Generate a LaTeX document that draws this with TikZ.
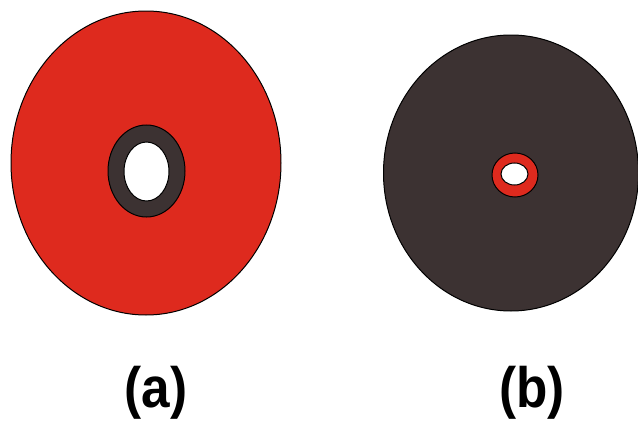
\documentclass[tikz,border=0pt]{standalone}
\usepackage{fontspec}
\setmainfont{Liberation Sans}
\definecolor{redf}{RGB}{222,42,30}
\definecolor{darkf}{RGB}{60,50,50}
\begin{document}
\begin{tikzpicture}[x=1pt,y=-1pt,
  disc/.style={draw=black,line width=1pt},
  lbl/.style={font=\fontsize{57}{60}\selectfont\bfseries,xscale=0.9,inner sep=0pt,anchor=base}]
\useasboundingbox (0,0) rectangle (638,423);
\begin{scope}
\clip (0,0) rectangle (638,423);
% (a)
\filldraw[disc,fill=redf] (146,163) ellipse [x radius=135,y radius=152];
\filldraw[disc,fill=darkf] (146.5,171) ellipse [x radius=38.5,y radius=46];
\filldraw[disc,fill=white] (146.5,171.5) ellipse [x radius=22.5,y radius=29.5];
% (b)
\filldraw[disc,fill=darkf] (511,173) ellipse [x radius=127.5,y radius=138];
\filldraw[disc,fill=redf] (515,175) ellipse [x radius=23,y radius=22];
\filldraw[disc,fill=white] (514.5,174) ellipse [x radius=13.5,y radius=11];
\end{scope}
\node[lbl] (la) at (156,407) {(a)};
\node[lbl] (lb) at (532,407) {(b)};
\end{tikzpicture}
\end{document}
